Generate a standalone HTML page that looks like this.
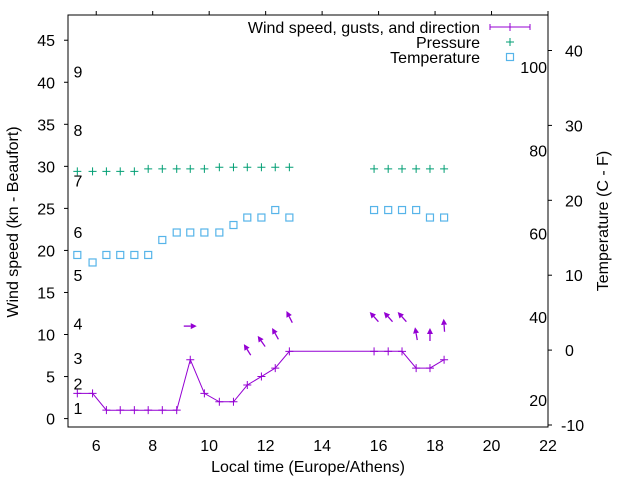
<!DOCTYPE html>
<html><head><meta charset="utf-8"><style>
html,body{margin:0;padding:0;background:#fff}
svg text{font-family:"Liberation Sans",sans-serif;font-size:16px;fill:#000}
</style></head><body>
<svg id="c" width="640" height="480" xmlns="http://www.w3.org/2000/svg">
<rect x="0" y="0" width="640" height="480" fill="#fff"/>
<g id="axes"></g>
<g id="marks"></g>
<g id="legend"></g>
</svg>
<script>
const times=[5.33,5.87,6.36,6.85,7.35,7.84,8.34,8.85,9.33,9.83,10.36,10.86,11.35,11.85,12.34,12.84,15.84,16.34,16.83,17.33,17.82,18.32];
const wind=[3,3,1,1,1,1,1,1,7,3,2,2,4,5,6,8,8,8,8,6,6,7];
const pressure=[29.4,29.4,29.4,29.4,29.4,29.7,29.7,29.7,29.7,29.7,29.9,29.9,29.9,29.9,29.9,29.9,29.7,29.7,29.7,29.7,29.7,29.7];
const tempC=[12.7,11.7,12.7,12.7,12.7,12.7,14.7,15.7,15.7,15.7,15.7,16.7,17.7,17.7,18.7,17.7,18.7,18.7,18.7,18.7,17.7,17.7];
const arrowTimes=[9.33,11.35,11.85,12.34,12.84,15.84,16.34,16.83,17.33,17.82,18.32];
const gusts=[11,8.2,9.2,10.1,12.1,12.1,12.1,12.1,10.1,10,11.1];
const dirs=[90,328,325,331,333,318,318,318,350,0,356];
const xTicks=[6,8,10,12,14,16,18,20,22];
const yTicks=[0,5,10,15,20,25,30,35,40,45];
const cTicks=[-10,0,10,20,30,40];
const fTicks=[20,40,60,80,100];
const bftLabels=["1","2","3","4","5","6","7","8","9"];
const bftPos=[1.26,4.2,7.2,11.3,17.1,22.2,28.3,34.3,41.3];

const L=68,R=548,T=15,B=427;
const X=t=>L+(t-5)*(R-L)/17;
const Y=v=>B-(v+1)*(B-T)/49;
const YC=c=>425-(c+10)*7.49;
const NS="http://www.w3.org/2000/svg";
function mk(tag,attrs,parent,txt){const e=document.createElementNS(NS,tag);for(const k in attrs)e.setAttribute(k,attrs[k]);if(txt!==undefined)e.textContent=txt;parent.appendChild(e);return e;}
const ax=document.getElementById('axes'),mg=document.getElementById('marks'),lg=document.getElementById('legend');

let e=mk('rect',{x:L,y:T,width:R-L,height:B-T,fill:'none',stroke:'#000','stroke-width':1},ax);


xTicks.forEach(t=>{
 let l=mk('line',{x1:X(t),x2:X(t),y1:T-4,y2:T,stroke:'#000'},ax);
 
 
 let tx=mk('text',{x:X(t),y:451,'text-anchor':'middle'},ax,String(t));
 
 
});
yTicks.forEach(v=>{
 let l=mk('line',{x1:L-4,x2:L,y1:Y(v),y2:Y(v),stroke:'#000'},ax);
 
 
 let tx=mk('text',{x:55,y:Y(v)+6,'text-anchor':'end'},ax,String(v));
 
 
});
cTicks.forEach(c=>{
 let l=mk('line',{x1:R,x2:R+4,y1:YC(c),y2:YC(c),stroke:'#000'},ax);
 
 
 let tx=mk('text',{x:c<0?561:565,y:YC(c)+6,'text-anchor':'start'},ax,String(c));
 
 
});
fTicks.forEach(f=>{
 let tx=mk('text',{x:547,y:YC((f-32)*5/9)+6,'text-anchor':'end'},ax,String(f));
 
 
});
bftLabels.forEach((b,i)=>{
 let tx=mk('text',{x:78,y:Y(bftPos[i])+6,'text-anchor':'middle'},ax,b);
 
 
});
e=mk('text',{x:308,y:472,'text-anchor':'middle'},ax,'Local time (Europe/Athens)');


e=mk('text',{x:0,y:0,'text-anchor':'middle',transform:'translate(18,222) rotate(-90)'},ax,'Wind speed (kn - Beaufort)');


e=mk('text',{x:0,y:0,'text-anchor':'middle',transform:'translate(608,221) rotate(-90)'},ax,'Temperature (C - F)');



const purple='#9400d3',green='#009e73',blue='#56b4e9';
function plus(x,y,c,s,p,name){let g=mk('path',{d:`M${x-s} ${y}H${x+s}M${x} ${y-s}V${y+s}`,stroke:c,'stroke-width':1,fill:'none'},p);}
function sq(x,y,name,p){let r=mk('rect',{x:x-3.5,y:y-3.5,width:7,height:7,fill:'none',stroke:blue,'stroke-width':1.2},p);}

let d=times.map((t,i)=>(i?'L':'M')+X(t).toFixed(1)+' '+Y(wind[i]).toFixed(1)).join('');
e=mk('path',{d:d,stroke:purple,fill:'none','stroke-width':1},mg);


times.forEach((t,i)=>{
 plus(X(t),Y(wind[i]),purple,4,mg,'wind-point');
 plus(X(t),Y(pressure[i]),green,4,mg,'pressure-point');
 sq(X(t),YC(tempC[i]),'temperature-point',mg);
});
arrowTimes.forEach((t,i)=>{
 const a=dirs[i]*Math.PI/180,len=13;
 const dx=Math.sin(a)*len,dy=-Math.cos(a)*len;
 const cx=X(t),cy=Y(gusts[i]);
 const x1=cx-dx/2,y1=cy-dy/2,x2=cx+dx/2,y2=cy+dy/2;
 const ux=dx/len,uy=dy/len,hl=6,hw=3;
 const bx=x2-ux*hl,by=y2-uy*hl;
 const g=mk('g',{},mg);
 
 
 mk('line',{x1:x1,y1:y1,x2:bx,y2:by,stroke:purple,'stroke-width':1.3},g);
 mk('path',{d:`M${x2} ${y2}L${bx-uy*hw} ${by+ux*hw}L${bx+uy*hw} ${by-ux*hw}Z`,fill:purple},g);
});

const lt=[['Wind speed, gusts, and direction',27],['Pressure',42],['Temperature',57]];
lt.forEach((r,i)=>{
 let tx=mk('text',{x:480,y:r[1]+6,'text-anchor':'end'},lg,r[0]);
 
 
});
e=mk('path',{d:'M490 27H530M490 24V30M510 23V31M530 24V30',stroke:purple,fill:'none'},lg);


plus(510,42,green,4,lg,'legend-pressure-sample');
sq(510,57,'legend-temperature-sample',lg);
</script>
</body></html>
